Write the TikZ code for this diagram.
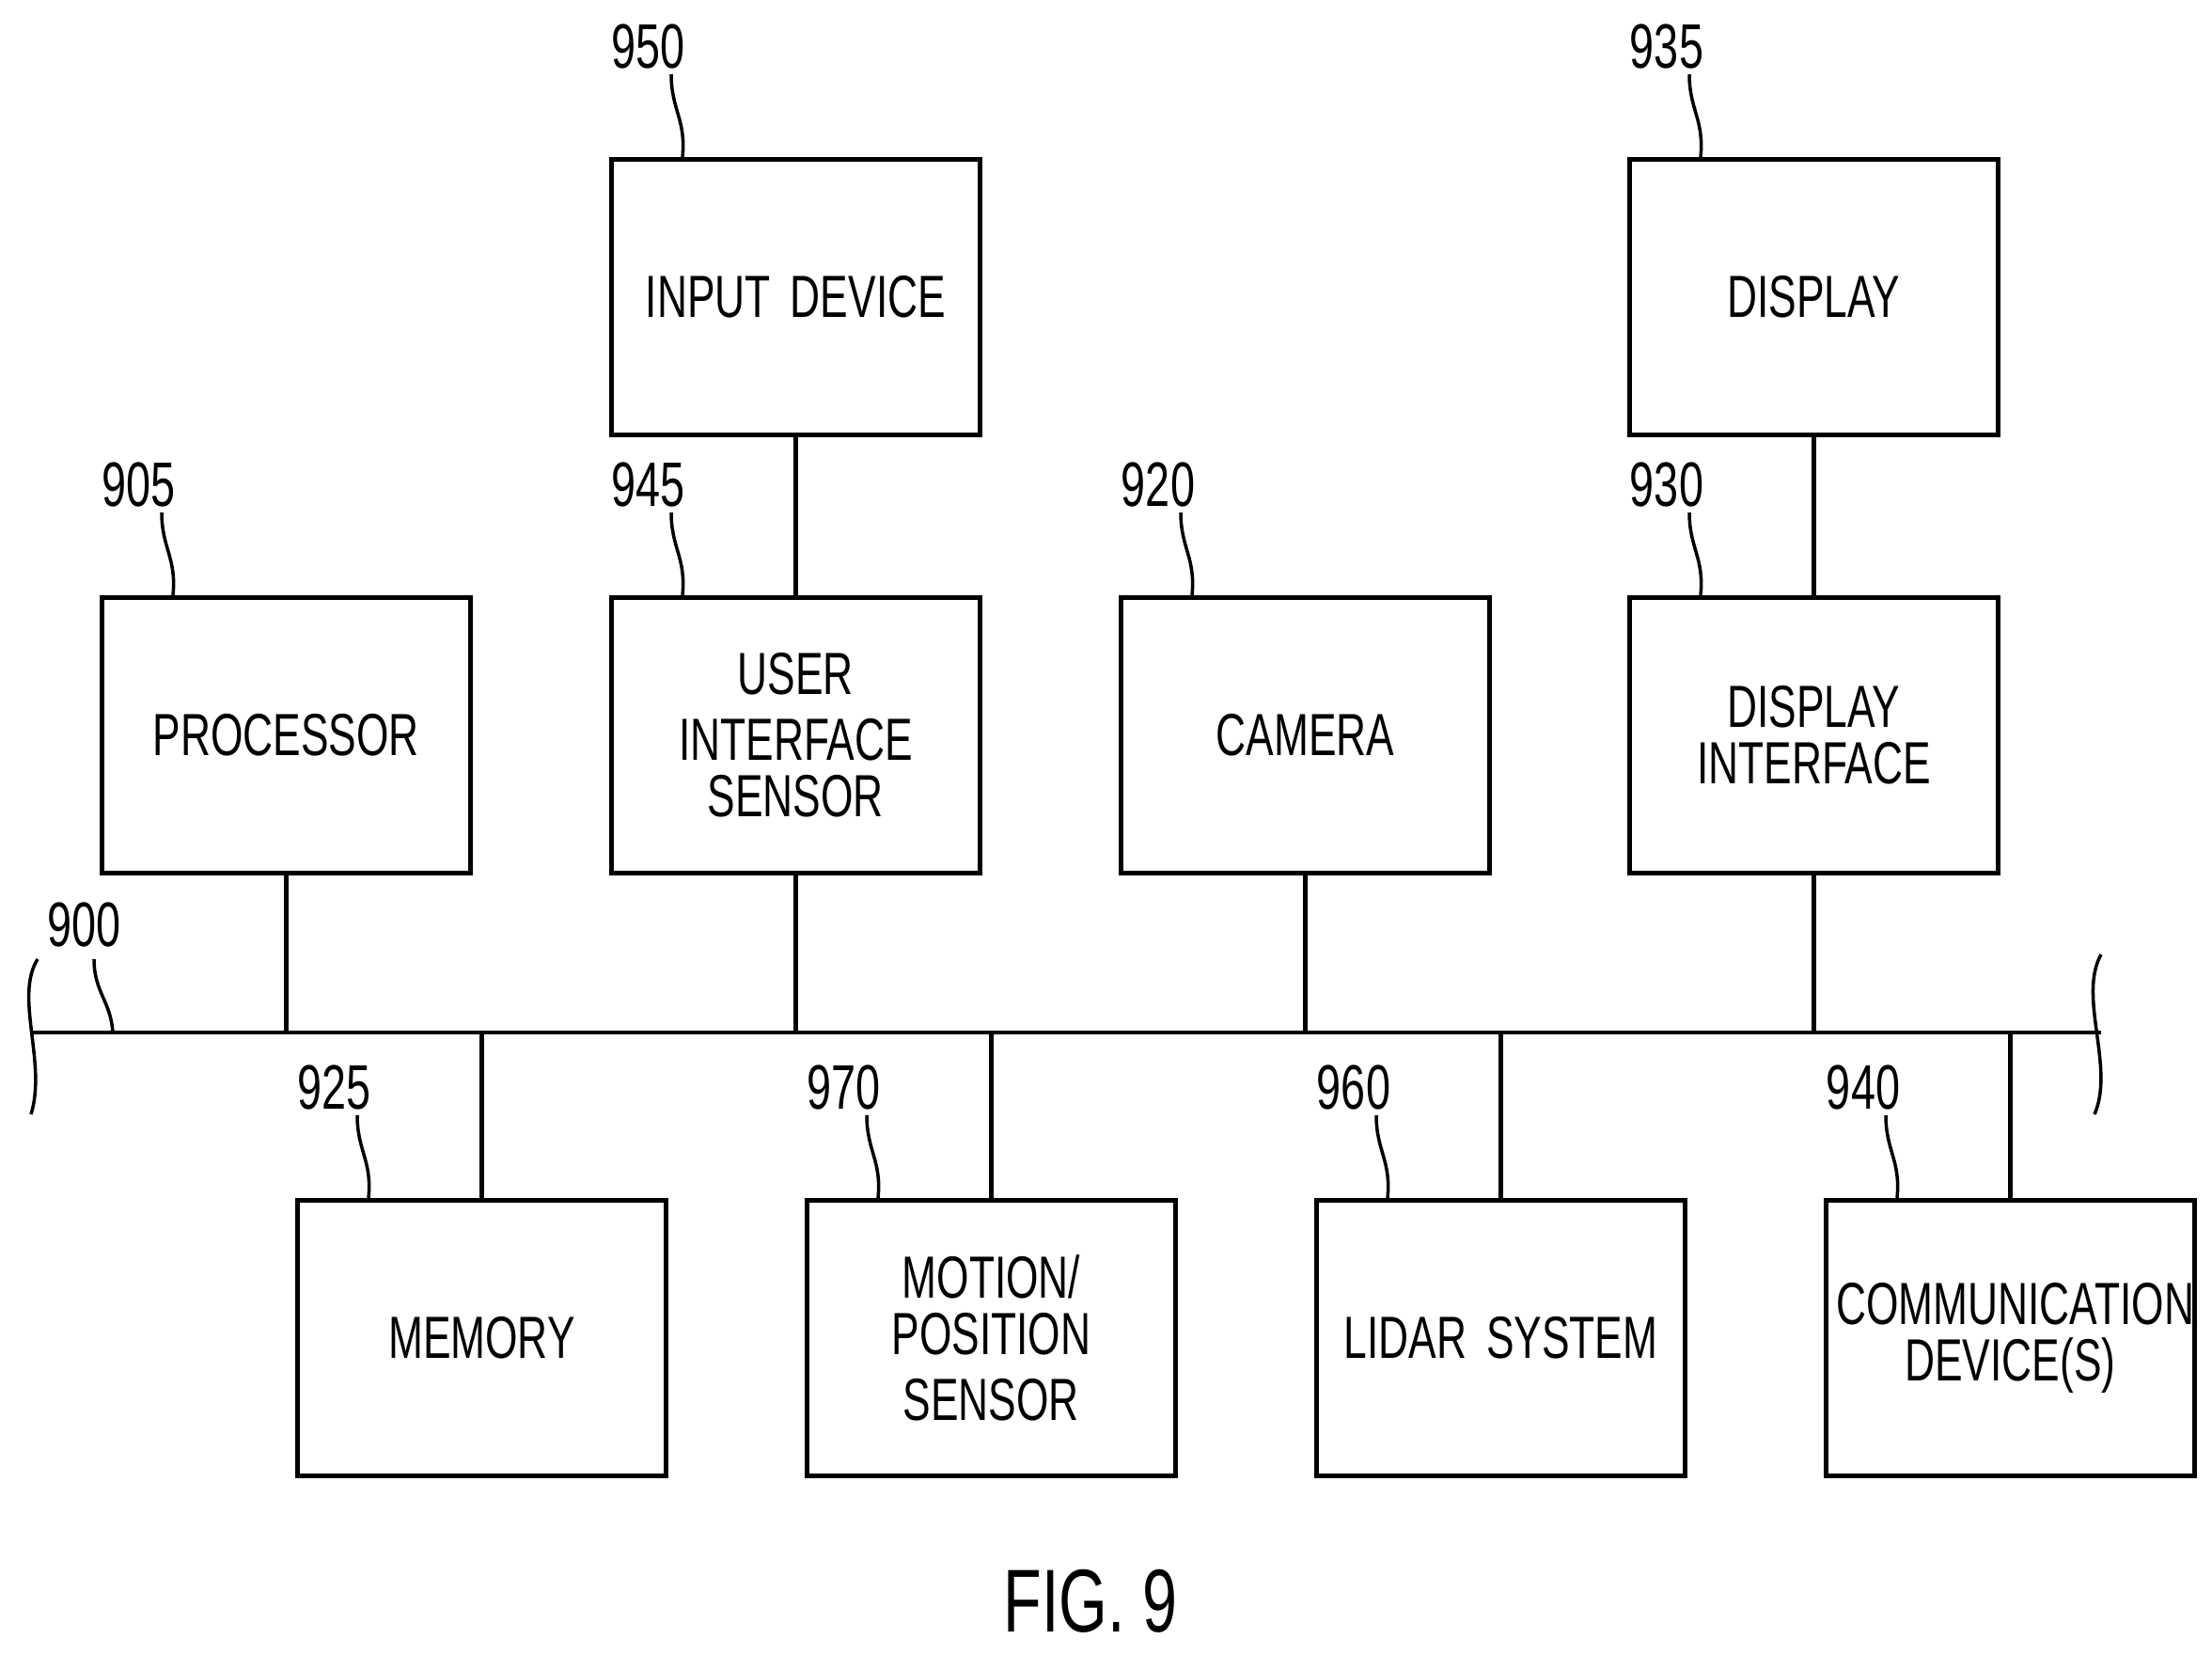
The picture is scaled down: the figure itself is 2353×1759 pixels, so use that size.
\documentclass[tikz,border=0pt]{standalone}
\usetikzlibrary{calc}
\usepackage{fontspec}
\setmainfont{Liberation Sans}[FakeStretch=0.7]
\begin{document}
\begin{tikzpicture}[x=0.01cm,y=-0.01cm,line width=1.3pt,
  box/.style={draw,text width=3.7cm,minimum width=3.92cm,minimum height=2.93cm,anchor=north west,align=center,font=\fontsize{18}{20}\selectfont,inner sep=0pt},
  lab/.style={font=\fontsize{19}{21}\selectfont,inner sep=0pt},
  lead/.style={line width=1pt}]
\useasboundingbox (0,0) rectangle (2353,1759);
\newcommand\mybox[5]{% name, x, y, text, label
  \node[box] (#1) at (#2,#3) {#4};
  \node[lab] (#1l) at ($(#2,#3)+(42,-118)$) {#5};
  \draw[lead] ($(#2,#3)+(66,-88)$) .. controls ($(#2,#3)+(66,-50)$) and ($(#2,#3)+(82,-40)$) .. ($(#2,#3)+(78,0)$);}
\mybox{inp}{648}{167}{INPUT DEVICE}{950}
\mybox{disp}{1731}{167}{DISPLAY}{935}
\mybox{proc}{106}{633}{PROCESSOR}{905}
\mybox{ui}{648}{633}{USER INTERFACE\\[-3pt]SENSOR}{945}
\mybox{cam}{1190}{633}{CAMERA}{920}
\mybox{di}{1731}{633}{DISPLAY\\[-3pt]INTERFACE}{930}
\mybox{mem}{314}{1274}{MEMORY}{925}
\mybox{mot}{856}{1274}{MOTION/\\[-3pt]POSITION SENSOR}{970}
\mybox{lid}{1398}{1274}{LIDAR SYSTEM}{960}
\mybox{com}{1940}{1274}{COMMUNICATION\\[-3pt]DEVICE(S)}{940}
% bus
\coordinate (bl) at (33,1098);
\coordinate (br) at (2235,1098);
\draw (bl) -- (br);
\draw[lead] (40,1020) .. controls (15,1060) and (50,1130) .. (33,1185);
\draw[lead] (2235,1015) .. controls (2210,1060) and (2250,1135) .. (2228,1185);
\node[lab] (bus) at (90,983) {900};
\draw[lead] (100,1020) .. controls (100,1055) and (118,1065) .. (120,1098);
\foreach \n in {proc,ui,cam,di}{\draw (\n.south) -- (\n.south |- bl);}
\foreach \n in {mem,mot,lid,com}{\draw (\n.north) -- (\n.north |- bl);}
\draw (inp) -- (ui);
\draw (disp) -- (di);
\node[font=\fontsize{27}{30}\selectfont] (fig) at (1160,1703) {FIG. 9};
\end{tikzpicture}
\end{document}
